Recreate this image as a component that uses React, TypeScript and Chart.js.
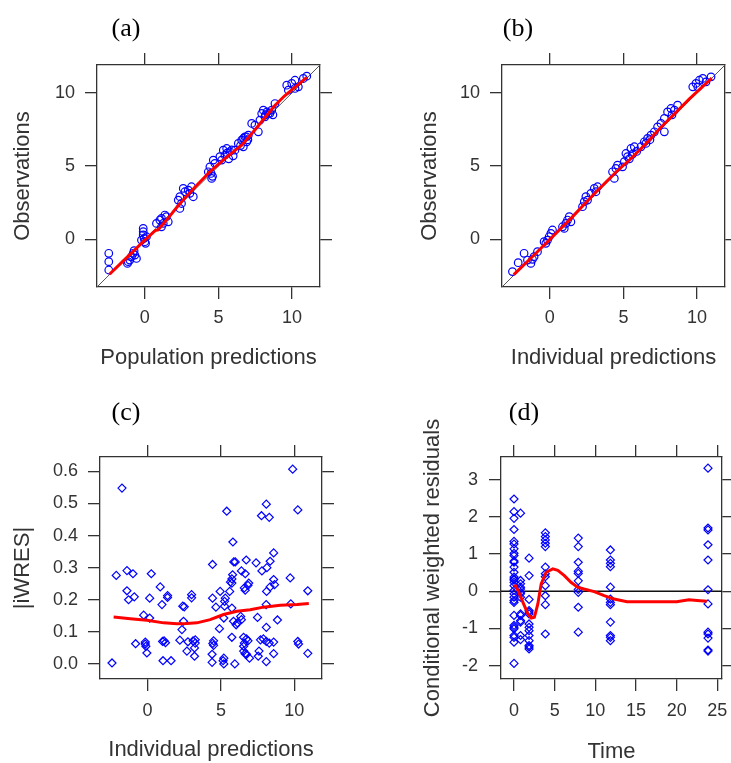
import React, { useEffect, useRef } from "react";
import { Chart, registerables } from "chart.js";
Chart.register(...registerables);

const SANS = "'Liberation Sans', Arial, sans-serif";
const SERIF = "'Liberation Serif', 'Times New Roman', serif";
const INK = "#333333";
const BLUE = "#0000FF";
const RED = "#FF0000";

// ---- tick values ----
const GOF_TICKS = [0, 5, 10];
const IWRES_TICKS = [0, 0.1, 0.2, 0.3, 0.4, 0.5, 0.6];
const CWRES_TICKS = [-2, -1, 0, 1, 2, 3];
const TIME_TICKS = [0, 5, 10, 15, 20, 25];

// ---- axis ranges ----
const GOF_RANGE = [-3.25, 11.9];
const IWRES_RANGE = [-0.047, 0.645];
const TIME_RANGE = [-1.6, 25.57];
const CWRES_RANGE = [-2.36, 3.61];

// ---- (a) population predictions vs observations ----
const PANEL_A_POINTS: [number, number][] = [
  [-2.45, -0.95], [-2.45, -1.52], [-2.45, -2.09],
  [-1.13, -1.52], [-1.02, -1.41], [-0.91, -1.18], [-0.79, -0.95], [-0.68, -1.07], [-0.73, -0.77], [-0.57, -1.3], [-1.18, -1.64],
  [-0.11, 0.75], [-0.11, 0.52], [-0.11, 0.3], [-0.05, 0.07], [0, -0.16], [0.05, -0.27], [-0.23, -0.05], [0.11, 0.18],
  [1.02, 1.32], [1.13, 1.43], [1.25, 1.09], [1.36, 1.66], [1.47, 1.55], [1.59, 1.2], [1.13, 0.86], [0.79, 1.09],
  [2.27, 2.68], [2.38, 2.91], [2.49, 2.45], [2.61, 3.48], [2.72, 3.25], [2.95, 3.36], [3.17, 3.59], [3.29, 2.91], [3.06, 3.14], [2.38, 2.11],
  [4.31, 4.61], [4.42, 4.95], [4.54, 4.16], [4.65, 5.41], [4.76, 5.18], [5.1, 5.64], [5.33, 6.09], [5.56, 6.2], [5.78, 5.98], [5.44, 5.75], [5.22, 5.41],
  [5.6, 5.9], [5.9, 6.1], [6.0, 5.7], [5.7, 5.5], [4.5, 4.5], [4.6, 4.3],
  [6.12, 6.09], [6.35, 6.55], [6.58, 6.77], [6.8, 7.0], [6.92, 6.66], [6.69, 6.32], [7.03, 7.11], [6.7, 6.9], [6.9, 7.0], [6.5, 6.4], [7.0, 6.8],
  [7.26, 7.91], [7.48, 7.8], [7.71, 7.34], [7.94, 8.59], [8.05, 8.82], [8.16, 8.36], [8.39, 8.59], [8.62, 8.82], [8.84, 9.27], [7.82, 8.14],
  [8.2, 8.5], [8.5, 8.6], [8.7, 8.5], [8.3, 8.7],
  [9.64, 10.52], [9.75, 10.18], [9.98, 10.64], [10.2, 10.86], [10.43, 10.41], [10.77, 10.98], [11.0, 11.14], [10.2, 10.3],
];
const PANEL_A_SMOOTH: [number, number][] = [
  [-2.4, -2.38], [-1.5, -1.5], [0, -0.05], [0.7, 0.6], [0.9, 0.65], [1.5, 1.35], [2.3, 2.35], [3.4, 3.55],
  [4.5, 4.7], [5.6, 5.65], [6.6, 6.45], [7.5, 7.5], [8.8, 9.1], [9.5, 9.8], [11.0, 11.05],
];

// ---- (b) individual predictions vs observations ----
const PANEL_B_POINTS: [number, number][] = [
  [-2.54, -2.2], [-2.15, -1.59], [-1.75, -0.95], [-1.52, -1.41], [-1.29, -1.64], [-1.07, -1.18], [-0.84, -0.84], [-1.18, -1.36],
  [-0.39, -0.16], [-0.16, -0.05], [0.07, 0.41], [0.18, 0.64], [-0.05, 0.18], [-0.27, -0.27],
  [0.86, 0.86], [1.09, 1.09], [1.2, 1.32], [1.32, 1.55], [1.43, 1.2], [0.98, 0.75],
  [2.22, 2.23], [2.45, 2.91], [2.79, 3.14], [3.02, 3.48], [3.24, 3.59], [3.13, 3.25], [2.56, 2.68], [2.34, 2.57],
  [4.26, 4.61], [4.49, 4.84], [4.6, 5.07], [4.38, 4.16], [5.06, 5.3], [5.28, 5.64], [5.51, 6.2], [5.74, 6.32], [5.17, 5.86], [4.94, 4.95],
  [5.6, 5.8], [5.9, 6.0], [5.4, 5.5],
  [6.19, 6.32], [6.42, 6.66], [6.64, 6.89], [6.87, 7.11], [6.53, 6.55], [7.1, 7.34], [6.8, 6.8],
  [7.32, 7.68], [7.55, 7.91], [7.78, 8.25], [8.0, 8.7], [8.23, 8.93], [8.46, 8.82], [8.68, 9.16], [7.78, 7.34], [8.3, 8.5],
  [9.71, 10.41], [9.93, 10.64], [10.16, 10.86], [10.39, 10.98], [10.61, 10.75], [10.95, 11.09], [10.05, 10.41],
];
const PANEL_B_SMOOTH: [number, number][] = [
  [-2.45, -2.4], [-1, -1.0], [0, 0.0], [1.5, 1.5], [3, 3.1], [4.5, 4.6], [5.5, 5.5], [6.5, 6.5],
  [7.5, 7.6], [8.5, 8.6], [9.5, 9.6], [11, 11.0],
];

// ---- (c) individual predictions vs |iWRES| ----
const PANEL_C_POINTS: [number, number][] = [
  [-2.43, 0.003], [-1.75, 0.548], [-2.14, 0.276], [-1.41, 0.291], [-1.0, 0.281], [-1.41, 0.228], [-1.3, 0.2], [-0.91, 0.209],
  [-0.82, 0.063], [-0.16, 0.068], [-0.16, 0.062], [-0.12, 0.055], [-0.05, 0.034], [-0.27, 0.152], [0.14, 0.143], [0.25, 0.281],
  [0.14, 0.205], [0.86, 0.24], [0.98, 0.185], [1.02, 0.07], [1.12, 0.072], [1.22, 0.066], [1.36, 0.213], [1.36, 0.207],
  [1.05, 0.01], [1.6, 0.01], [2.2, 0.074], [2.75, 0.069], [2.4, 0.18], [2.5, 0.178], [2.45, 0.133], [2.34, 0.107],
  [2.68, 0.04], [3.1, 0.072], [3.25, 0.075], [3.25, 0.065], [3.2, 0.05], [3.2, 0.024], [3.0, 0.216], [3.0, 0.206],
  [4.43, 0.31], [4.43, 0.205], [4.5, 0.072], [4.45, 0.064], [4.5, 0.058], [4.4, 0.03], [4.4, 0.005], [4.95, 0.226],
  [4.9, 0.11], [4.66, 0.177], [5.15, 0.01], [5.2, 0.018], [5.2, 0.0], [5.25, 0.195], [5.3, 0.205], [5.4, 0.476],
  [5.2, 0.143], [5.25, 0.18], [5.6, 0.226], [5.65, 0.255], [5.75, 0.174], [5.8, 0.278], [5.75, 0.265], [5.75, 0.252],
  [5.82, 0.38], [5.88, 0.318], [5.98, 0.318], [5.75, 0.083], [5.95, 0.0], [5.86, 0.133], [6.04, 0.122], [6.13, 0.128],
  [6.4, 0.29], [6.66, 0.281], [6.73, 0.324], [6.4, 0.138], [6.35, 0.148], [6.66, 0.23], [6.6, 0.237], [6.9, 0.252],
  [6.85, 0.245], [6.55, 0.083], [6.75, 0.078], [6.85, 0.072], [6.6, 0.065], [6.55, 0.055], [6.55, 0.04], [6.65, 0.032],
  [6.75, 0.03], [6.95, 0.018], [7.4, 0.315], [7.5, 0.145], [7.8, 0.29], [7.77, 0.462], [8.3, 0.457], [8.1, 0.498],
  [8.14, 0.3], [8.36, 0.32], [8.09, 0.185], [8.12, 0.226], [8.36, 0.24], [8.6, 0.346], [8.6, 0.263], [8.66, 0.247],
  [8.1, 0.114], [7.7, 0.075], [7.9, 0.078], [8.1, 0.07], [8.3, 0.065], [8.6, 0.068], [7.6, 0.04], [7.55, 0.024],
  [8.1, 0.007], [8.6, 0.032], [8.86, 0.137], [9.73, 0.268], [9.77, 0.187], [9.9, 0.607], [10.25, 0.48], [10.25, 0.07],
  [10.3, 0.062], [10.93, 0.228], [10.93, 0.033],
];
const PANEL_C_SMOOTH: [number, number][] = [
  [-2.32, 0.146], [-1.18, 0.141], [-0.05, 0.136], [1.09, 0.128], [2.0, 0.125], [2.68, 0.126], [3.36, 0.128], [4.27, 0.138],
  [5.18, 0.154], [6.09, 0.164], [7.0, 0.169], [7.9, 0.177], [9.05, 0.183], [10.2, 0.185], [11.0, 0.188],
];

// ---- (d) time vs conditional weighted residuals ----
const PANEL_D_TIMES = [0, 0.8, 1.85, 3.85, 7.9, 11.85, 23.85];
const PANEL_D_RESIDUALS: number[][] = [
  [2.48, 2.14, 1.96, 1.66, 1.34, 1.27, 1.14, 1.02, 0.96, 0.81, 0.78, 0.65, 0.51, 0.38, 0.33, 0.3, 0.24, 0.15, 0.02, -0.07,
    -0.16, -0.25, -0.3, -0.65, -0.92, -0.97, -1.01, -1.19, -1.24, -1.37, -1.94],
  [2.1, 0.29, 0.2, 0.11, 0.06, -0.03, -0.07, -0.16, -0.61, -0.65, -0.79, -0.83, -1.19, -1.3],
  [0.89, 0.42, -0.22, -0.52, -0.56, -0.61, -0.88, -0.97, -1.06, -1.19, -1.33, -1.46, -1.5, -1.55],
  [1.57, 1.47, 1.38, 1.29, 1.2, 0.65, 0.47, 0.39, 0.15, -0.12, -0.36, -1.15],
  [1.43, 1.2, 0.78, 0.54, 0.48, 0.28, 0.05, -0.03, -0.43, -1.1],
  [1.11, 0.84, 0.75, 0.66, 0.11, -0.21, -0.3, -0.36, -0.83, -1.19, -1.24, -1.33],
  [3.31, 1.7, 1.65, 1.25, 0.84, 0.04, -0.34, -1.1, -1.15, -1.26, -1.58, -1.61],
];
const PANEL_D_SMOOTH: [number, number][] = [
  [0.08, 0.18], [0.49, 0.02], [1.1, -0.3], [1.71, -0.61], [2.12, -0.72], [2.5, -0.7], [2.93, -0.34], [3.34, 0.2],
  [3.95, 0.51], [4.77, 0.6], [5.38, 0.56], [6.19, 0.42], [7.0, 0.24], [7.82, 0.11], [8.6, 0.06], [9.86, -0.01],
  [11.08, -0.12], [12.3, -0.21], [13.9, -0.28], [16.4, -0.28], [20.0, -0.28], [21.5, -0.23], [22.5, -0.25], [23.7, -0.27],
];

const toXY = (pts: [number, number][]) => pts.map(([x, y]) => ({ x, y }));

const smoothDs = (pts: [number, number][]) => ({
  data: toXY(pts), showLine: true, borderColor: RED, borderWidth: 3, pointRadius: 0, fill: false, tension: 0,
});
const pointsDs = (pts: { x: number; y: number }[], style: string, r: number) => ({
  data: pts, pointStyle: style, pointRadius: r, pointBorderColor: BLUE, pointBackgroundColor: "rgba(0,0,0,0)",
  pointBorderWidth: 1.2, showLine: false,
});
const refLineDs = (pts: { x: number; y: number }[], color: string, width: number) => ({
  data: pts, showLine: true, borderColor: color, borderWidth: width, pointRadius: 0, fill: false,
});

type Spec = {
  key: string;
  box: { l: number; t: number; w: number; h: number };
  pad: { left: number; top: number; right: number; bottom: number };
  xRange: number[]; yRange: number[]; xTicks: number[]; yTicks: number[];
  xTitle: string; yTitle: string;
  xTickPad: number; yTickPad: number; xTitlePad: number; yTitlePad: number;
  yFmt: (v: number) => string;
  datasets: any[];
  label: string; labelPos: [number, number];
};

const SPECS: Spec[] = [
  {
    key: "a", box: { l: 0, t: 40, w: 340, h: 340 }, pad: { left: 97, top: 25, right: 20, bottom: 93 },
    xRange: GOF_RANGE, yRange: GOF_RANGE, xTicks: GOF_TICKS, yTicks: GOF_TICKS,
    xTitle: "Population predictions", yTitle: "Observations",
    xTickPad: 8, yTickPad: 10, xTitlePad: 11, yTitlePad: 12, yFmt: (v) => String(v),
    datasets: [
      smoothDs(PANEL_A_SMOOTH),
      pointsDs(toXY(PANEL_A_POINTS), "circle", 3.8),
      refLineDs([{ x: GOF_RANGE[0], y: GOF_RANGE[0] }, { x: GOF_RANGE[1], y: GOF_RANGE[1] }], "#555555", 1),
    ],
    label: "(a)", labelPos: [126, 28],
  },
  {
    key: "b", box: { l: 365, t: 40, w: 366, h: 340 }, pad: { left: 137, top: 25, right: 6, bottom: 93 },
    xRange: GOF_RANGE, yRange: GOF_RANGE, xTicks: GOF_TICKS, yTicks: GOF_TICKS,
    xTitle: "Individual predictions", yTitle: "Observations",
    xTickPad: 8, yTickPad: 10, xTitlePad: 11, yTitlePad: 54, yFmt: (v) => String(v),
    datasets: [
      smoothDs(PANEL_B_SMOOTH),
      pointsDs(toXY(PANEL_B_POINTS), "circle", 3.8),
      refLineDs([{ x: GOF_RANGE[0], y: GOF_RANGE[0] }, { x: GOF_RANGE[1], y: GOF_RANGE[1] }], "#555555", 1),
    ],
    label: "(b)", labelPos: [518, 28],
  },
  {
    key: "c", box: { l: 0, t: 400, w: 340, h: 363 }, pad: { left: 100, top: 57, right: 18, bottom: 84 },
    xRange: GOF_RANGE, yRange: IWRES_RANGE, xTicks: GOF_TICKS, yTicks: IWRES_TICKS,
    xTitle: "Individual predictions", yTitle: "|iWRES|",
    xTickPad: 9, yTickPad: 10, xTitlePad: 2, yTitlePad: 12, yFmt: (v) => v.toFixed(1),
    datasets: [
      smoothDs(PANEL_C_SMOOTH),
      pointsDs(toXY(PANEL_C_POINTS), "rectRot", 4),
    ],
    label: "(c)", labelPos: [126, 412],
  },
  {
    key: "d", box: { l: 365, t: 400, w: 366, h: 363 }, pad: { left: 136, top: 57, right: 9, bottom: 84 },
    xRange: TIME_RANGE, yRange: CWRES_RANGE, xTicks: TIME_TICKS, yTicks: CWRES_TICKS,
    xTitle: "Time", yTitle: "Conditional weighted residuals",
    xTickPad: 9, yTickPad: 11, xTitlePad: 0, yTitlePad: 57, yFmt: (v) => String(v),
    datasets: [
      smoothDs(PANEL_D_SMOOTH),
      pointsDs(
        PANEL_D_TIMES.flatMap((t, i) => PANEL_D_RESIDUALS[i].map((r) => ({ x: t, y: r }))),
        "rectRot", 4
      ),
      refLineDs([{ x: TIME_RANGE[0], y: 0 }, { x: TIME_RANGE[1], y: 0 }], "#111111", 1.4),
    ],
    label: "(d)", labelPos: [524, 412],
  },
];

function buildConfig(s: Spec): any {
  const tickFont = { family: SANS, size: 18 };
  const titleFont = { family: SANS, size: 22, lineHeight: 1 };
  const grid = {
    display: true, drawOnChartArea: false, drawTicks: true, tickLength: 12,
    color: INK, tickColor: INK, lineWidth: 1.3, tickWidth: 1.3,
  };
  const border = { display: true, color: INK, width: 1.3 };
  const fix = (size: number) => (sc: any) => {
    if (sc.isHorizontal()) sc.height = size; else sc.width = size;
    sc.paddingLeft = 0; sc.paddingRight = 0; sc.paddingTop = 0; sc.paddingBottom = 0;
  };
  const setTicks = (vals: number[]) => (sc: any) => { sc.ticks = vals.map((v) => ({ value: v })); };
  const xBase = { type: "linear", min: s.xRange[0], max: s.xRange[1], afterBuildTicks: setTicks(s.xTicks), grid, border };
  const yBase = { type: "linear", min: s.yRange[0], max: s.yRange[1], afterBuildTicks: setTicks(s.yTicks), grid, border };
  return {
    type: "scatter",
    data: { datasets: s.datasets },
    options: {
      animation: false, responsive: false, maintainAspectRatio: false, events: [],
      layout: { padding: 0 },
      plugins: { legend: { display: false }, tooltip: { enabled: false }, title: { display: false } },
      scales: {
        x: {
          ...xBase, position: "bottom", afterFit: fix(s.pad.bottom),
          ticks: { color: INK, font: tickFont, padding: s.xTickPad, autoSkip: false, maxRotation: 0, minRotation: 0,
            callback: (v: number) => String(v) },
          title: { display: true, text: s.xTitle, color: INK, font: titleFont, padding: { top: 0, bottom: s.xTitlePad } },
        },
        xTop: {
          ...xBase, position: "top", afterFit: fix(s.pad.top), ticks: { display: false }, title: { display: false },
        },
        y: {
          ...yBase, position: "left", afterFit: fix(s.pad.left),
          ticks: { color: INK, font: tickFont, padding: s.yTickPad, autoSkip: false, callback: (v: number) => s.yFmt(v) },
          title: { display: true, text: s.yTitle, color: INK, font: titleFont, padding: { top: s.yTitlePad, bottom: 0 } },
        },
        yRight: {
          ...yBase, position: "right", afterFit: fix(s.pad.right), ticks: { display: false }, title: { display: false },
        },
      },
    },
  };
}

function Panel({ spec }: { spec: Spec }) {
  const ref = useRef<HTMLCanvasElement>(null);
  useEffect(() => {
    const chart = new Chart(ref.current as HTMLCanvasElement, buildConfig(spec));
    return () => chart.destroy();
  }, [spec]);
  const { l, t, w, h } = spec.box;
  return (
    <>
      <canvas
        ref={ref}
        width={w}
        height={h}
        style={{ position: "absolute", left: l, top: t, width: w, height: h }}
      />
      <div
        style={{
          position: "absolute", left: spec.labelPos[0], top: spec.labelPos[1], transform: "translate(-50%, -50%)",
          fontFamily: SERIF, fontSize: 26, lineHeight: 1, color: "#000", whiteSpace: "nowrap",
        }}
      >
        {spec.label}
      </div>
    </>
  );
}

export default function App() {
  return (
    <div style={{ position: "absolute", left: 0, top: 0, width: 731, height: 763, overflow: "hidden", background: "#fff" }}>
      {SPECS.map((s) => <Panel key={s.key} spec={s} />)}
    </div>
  );
}
